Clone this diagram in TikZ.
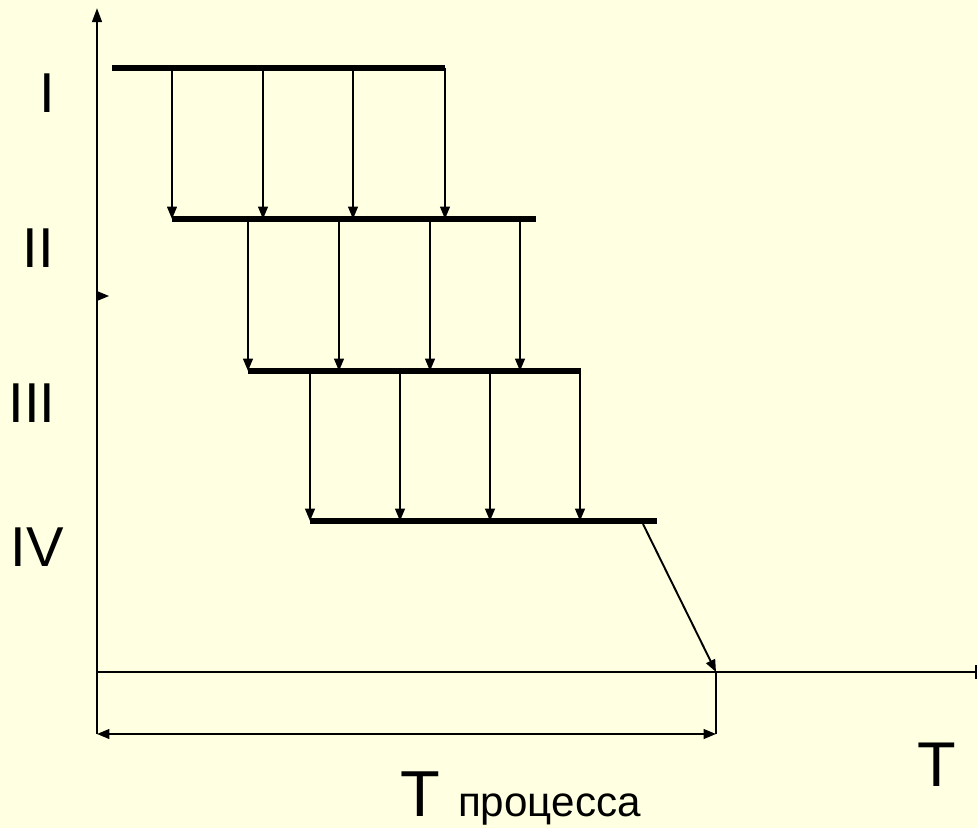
\documentclass[tikz,border=0pt]{standalone}
\usepackage{fontspec}
\setmainfont{Liberation Sans}
\usetikzlibrary{arrows.meta}
\definecolor{paper}{RGB}{255,255,225}
\begin{document}
\begin{tikzpicture}[x=0.02cm,y=-0.02cm,
    bar/.style={line width=3.8pt},
    arr/.style={line width=1.1pt,-{Triangle[length=7pt,width=5.5pt]}},
    lbl/.style={inner sep=0pt,font=\fontsize{32}{36}\selectfont}]
    \fill[paper] (0,0) rectangle (977,828);
    \useasboundingbox (0,0) rectangle (977,828);
    % axes
    \coordinate (O) at (97,672);
    \coordinate (Ytop) at (97,8);
    \coordinate (Xend) at (976,672);
    \coordinate (Tend) at (716,672);
    \coordinate (DL) at (97,734);
    \coordinate (DR) at (716,734);
    \draw[line width=1.3pt,-{Triangle[length=8pt,width=5.5pt]}] (O)--(Ytop);
    \draw[line width=1pt] (O)--(Xend);
    \draw[line width=1pt] ([yshift=-4pt]Xend)--([yshift=4pt]Xend);
    \draw[line width=0.9pt] (O)--(DL);
    \draw[line width=1.2pt] (Tend)--(DR);
    \draw[line width=1.1pt,{Triangle[length=7pt,width=5.5pt]}-{Triangle[length=7pt,width=5.5pt]}] (DL)--(DR);
    \fill (97,291)--(109,296)--(97,301)--cycle;
    % stages
    \coordinate (A1) at (112,68);  \coordinate (A2) at (445,68);
    \coordinate (B1) at (172,219); \coordinate (B2) at (536,219);
    \coordinate (C1) at (248,371); \coordinate (C2) at (581,371);
    \coordinate (D1) at (310,521); \coordinate (D2) at (657,521);
    \draw[bar] (A1)--(A2);
    \draw[bar] (B1)--(B2);
    \draw[bar] (C1)--(C2);
    \draw[bar] (D1)--(D2);
    \foreach \x in {172,263,353,445}
        \draw[arr] (\x,0 |- A1) -- (\x,0 |- B1);
    \foreach \x in {248,339,430,520}
        \draw[arr] (\x,0 |- B1) -- (\x,0 |- C1);
    \foreach \x in {310,400,490,580}
        \draw[arr] (\x,0 |- C1) -- (\x,0 |- D1);
    \draw[arr] (643,524) -- (Tend);
    % labels
    \node[lbl] (lI) at (47,93) {I};
    \node[lbl] (lII) at (38,248) {II};
    \node[lbl] (lIII) at (32,403) {III};
    \node[lbl] (lIV) at (37,547) {IV};
    \node[lbl,font=\fontsize{36}{40}\selectfont] (lT) at (937,765) {T};
    \node[anchor=base west,inner sep=0pt,font=\fontsize{37}{40}\selectfont] (lTp) at (400,816) {T \fontsize{24}{28}\selectfont процесса};
\end{tikzpicture}
\end{document}
